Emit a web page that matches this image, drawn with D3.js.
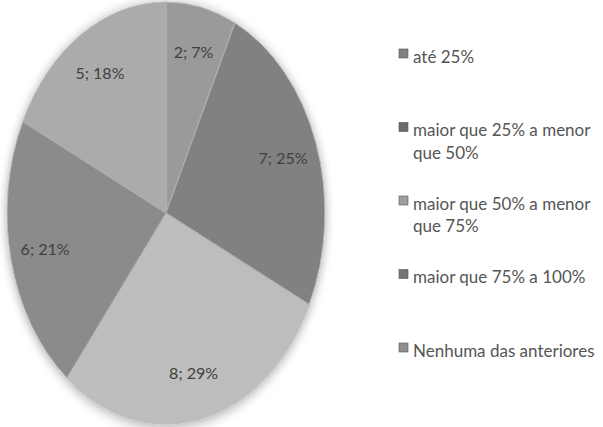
<!DOCTYPE html>
<html>
<head>
<meta charset="utf-8">
<script src="https://cdn.jsdelivr.net/npm/d3@7"></script>
<style>
  html, body { margin: 0; padding: 0; background: #ffffff; }
  svg { display: block; }
</style>
</head>
<body>
<div id="chart"></div>
<script>
// chart data
var categories = [
    "até 25%",
    "maior que 25% a menor que 50%",
    "maior que 50% a menor que 75%",
    "maior que 75% a 100%",
    "Nenhuma das anteriores"
];
var counts = [2, 7, 8, 6, 5];
var percents = ["7%", "25%", "29%", "21%", "18%"];
var legendLines = [
    ["até 25%"],
    ["maior que 25% a menor", "que 50%"],
    ["maior que 50% a menor", "que 75%"],
    ["maior que 75% a 100%"],
    ["Nenhuma das anteriores"]
];
var sliceColors = ["#9a9a9a", "#818181", "#bdbdbd", "#8b8b8b", "#ababab"];

var W = 603, H = 427;
var cx = 166, cy = 213, rx = 159, ry = 211;
var R = 100; // unit radius, scaled into the ellipse

var svg = d3.select("#chart")
    .append("svg")
    .attr("width", W)
    .attr("height", H);

var defs = svg.append("defs");
var shadow = defs.append("filter").attr("id", "shadow")
    .attr("x", "-10%").attr("y", "-10%").attr("width", "120%").attr("height", "120%");
shadow.append("feGaussianBlur").attr("in", "SourceAlpha").attr("stdDeviation", 3);
shadow.append("feOffset").attr("dx", 0).attr("dy", 1).attr("result", "b");
shadow.append("feComponentTransfer").append("feFuncA").attr("type", "linear").attr("slope", 0.35);
var merge = shadow.append("feMerge");
merge.append("feMergeNode");
merge.append("feMergeNode").attr("in", "SourceGraphic");

var pie = d3.pie().sort(null).value(function (d) { return d; });
var arcs = pie(counts);

var arc = d3.arc().innerRadius(0).outerRadius(R);
var labelArc = d3.arc().innerRadius(R * 0.78).outerRadius(R * 0.78);

// pie, drawn on a unit circle and stretched into the ellipse
var g = svg.append("g")
    .attr("transform", "translate(" + cx + "," + cy + ") scale(" + (rx / R) + "," + (ry / R) + ")")
    .attr("filter", "url(#shadow)");

g.selectAll("path.slice")
    .data(arcs)
    .enter()
    .append("path")
    .attr("class", "slice")
    .attr("d", arc)
    .attr("fill", function (d, i) { return sliceColors[i]; })
    .attr("stroke", "#d2d2d2")
    .attr("stroke-width", 0.9)
    .attr("vector-effect", "non-scaling-stroke");

// soft inner bevel: thin darker line just inside each slice
g.selectAll("path.bevel")
    .data(arcs)
    .enter()
    .append("path")
    .attr("class", "bevel")
    .attr("d", arc)
    .attr("fill", "none")
    .attr("stroke", "#6a6a6a")
    .attr("stroke-opacity", 0.35)
    .attr("stroke-width", 0.6)
    .attr("vector-effect", "non-scaling-stroke");

// slice labels
svg.append("g")
    .selectAll("text")
    .data(arcs)
    .enter()
    .append("text")
    .attr("x", function (d) { return cx + labelArc.centroid(d)[0] * rx / R; })
    .attr("y", function (d) { return cy + labelArc.centroid(d)[1] * ry / R; })
    .attr("dy", "0.35em")
    .attr("text-anchor", "middle")
    .attr("font-family", "Lato, 'Open Sans', sans-serif")
    .attr("font-size", 16)
    .attr("fill", "#404040")
    .text(function (d, i) { return counts[i] + "; " + percents[i]; });

// legend
var legendX = 399, legendTop = 57, legendStep = 73.5, lineH = 28;
var legend = svg.append("g");
var items = legend.selectAll("g.item")
    .data(categories)
    .enter()
    .append("g")
    .attr("class", "item")
    .attr("transform", function (d, i) { return "translate(" + legendX + "," + (legendTop + i * legendStep) + ")"; });

items.append("rect")
    .attr("x", 0)
    .attr("y", -8)
    .attr("width", 9)
    .attr("height", 9)
    .attr("fill", function (d, i) { return d3.color(sliceColors[i]).darker(0.5); })
    .attr("stroke", "#555")
    .attr("stroke-width", 0.6);

items.each(function (d, i) {
    var t = d3.select(this).append("text")
        .attr("x", 14)
        .attr("y", 0)
        .attr("dy", "0.35em")
        .attr("font-family", "Lato, 'Open Sans', sans-serif")
        .attr("font-size", 17)
        .attr("fill", "#555555");
    legendLines[i].forEach(function (line, j) {
        t.append("tspan")
            .attr("x", 14)
            .attr("y", j * lineH)
            .text(line);
    });
});
</script>
</body>
</html>
